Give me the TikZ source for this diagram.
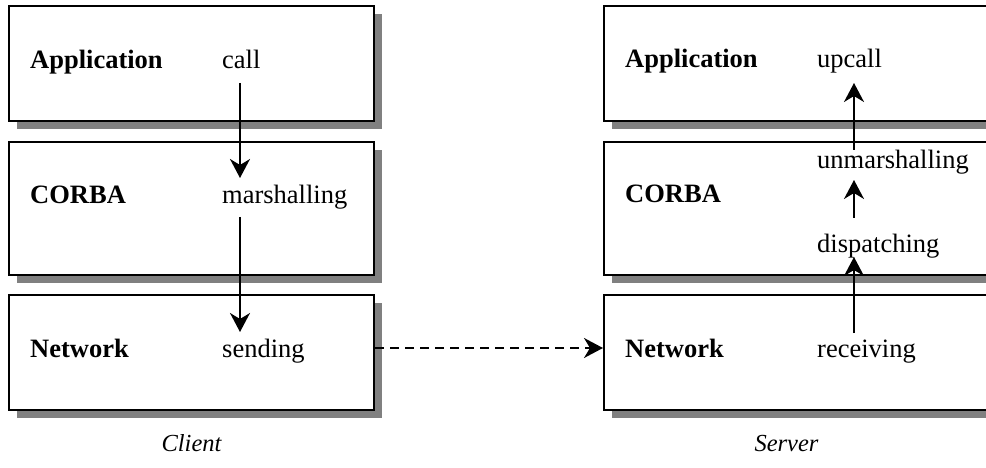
\documentclass[tikz,border=0pt]{standalone}
\usepackage{fontspec}
\setmainfont{Liberation Serif}
\usetikzlibrary{shadows,arrows.meta,calc}
\definecolor{shadowgray}{HTML}{808080}

\begin{document}
\begin{tikzpicture}[x=1pt,y=-1pt,
  layer/.style={draw=black, line width=2pt, fill=white, inner sep=0pt,
    minimum width=365pt, minimum height=#1,
    drop shadow={shadow xshift=8pt, shadow yshift=-8pt, fill=shadowgray, opacity=1}},
  txt/.style={anchor=base west, inner sep=0pt, font=\fontsize{26.5pt}{30pt}\selectfont},
  head/.style={txt, font=\fontsize{26.5pt}{30pt}\selectfont\bfseries},
  caption/.style={anchor=base, inner sep=0pt, font=\fontsize{24.5pt}{28pt}\selectfont\itshape},
  arr/.style={line width=2pt, -{Stealth[length=19pt,width=20pt,inset=6pt]}},
  dasharr/.style={arr, dash pattern=on 9pt off 6pt}]

\useasboundingbox (0,0) rectangle (986,468);
\clip (0,0) rectangle (986,468);

% client stack
\node[layer=115pt] (capp)   at (191.5,63.5)  {};
\node[layer=133pt] (ccorba) at (191.5,208.5) {};
\node[layer=115pt] (cnet)   at (191.5,352.5) {};

% server stack (runs past the right edge)
\node[layer=115pt, minimum width=420pt] (sapp)   at (814,63.5)  {};
\node[layer=133pt, minimum width=420pt] (scorba) at (814,208.5) {};
\node[layer=115pt, minimum width=420pt] (snet)   at (814,352.5) {};

% client texts
\node[head] (capplbl)   at (30,69)  {Application};
\node[txt]  (call)      at (222,69) {call};
\node[head] (ccorbalbl) at (30,204) {CORBA};
\node[txt]  (marsh)     at (222,204) {marshalling};
\node[head] (cnetlbl)   at (30,357) {Network};
\node[txt]  (send)      at (222,357) {sending};

% server texts
\node[head] (sapplbl)   at (625,68)  {Application};
\node[txt]  (upcall)    at (817,68)  {upcall};
\node[head] (scorbalbl) at (625,203) {CORBA};
\node[txt]  (unmarsh)   at (817,168) {unmarshalling};
\node[txt]  (disp)      at (817,252) {dispatching};
\node[head] (snetlbl)   at (625,357) {Network};
\node[txt]  (recv)      at (817,357) {receiving};

% captions
\node[caption] (client) at (191.5,451) {Client};
\node[caption] (server) at (786.5,451) {Server};

% client downcalls
\draw[arr] ($(call.base west)+(18,14)$) -- ($(marsh.base west)+(18,-26)$);
\draw[arr] ($(marsh.base west)+(18,13)$) -- ($(send.base west)+(18,-25)$);

% server upcalls
\draw[arr] ($(recv.base west)+(37,-24)$) -- ($(disp.base west)+(37,5)$);
\draw[arr] ($(disp.base west)+(37,-34)$) -- ($(unmarsh.base west)+(37,12)$);
\draw[arr] ($(unmarsh.base west)+(37,-18)$) -- ($(upcall.base west)+(37,15)$);

% network transfer
\draw[dasharr] ($(cnet.east)+(0,-4.5)$) -- ($(snet.west)+(0,-4.5)$);
\end{tikzpicture}
\end{document}
